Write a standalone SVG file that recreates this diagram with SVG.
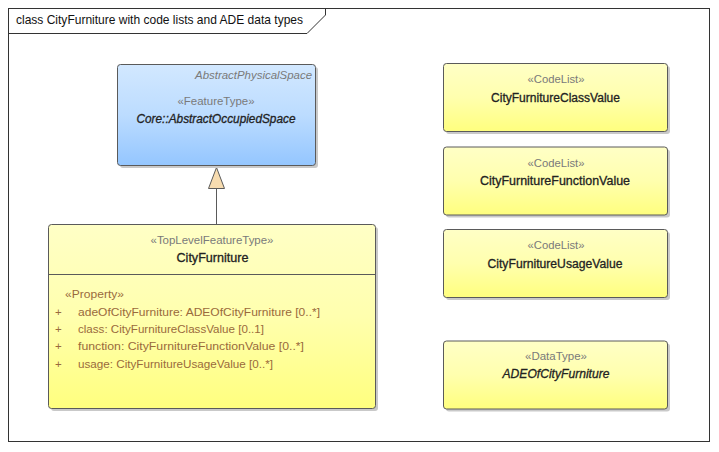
<svg xmlns="http://www.w3.org/2000/svg" width="719" height="452" viewBox="0 0 719 452">
<defs>
<linearGradient id="gBlue" x1="0" y1="0" x2="0" y2="1">
<stop offset="0" stop-color="#d2e8ff"/>
<stop offset="0.5" stop-color="#bcdcff"/>
<stop offset="1" stop-color="#94c6ff"/>
</linearGradient>
<linearGradient id="gYel" x1="0" y1="0" x2="0" y2="1">
<stop offset="0" stop-color="#ffffc6"/>
<stop offset="0.5" stop-color="#ffffae"/>
<stop offset="1" stop-color="#ffff7e"/>
</linearGradient>
<style>
text{font-family:"Liberation Sans",Arial,sans-serif;}
.shadow{fill:#c9c9c9;}
.box{stroke:#5a5a5a;stroke-width:1;}
.blue{fill:url(#gBlue);}
.yel{fill:url(#gYel);}
.st{font-size:11px;fill:#7a7a7a;text-anchor:middle;}
.nm{font-size:12.5px;fill:#222;stroke:#222;stroke-width:0.3;text-anchor:middle;}
.it{font-style:italic;}
.attr{font-size:11.5px;fill:#9a6a3c;}
.title{font-size:13px;fill:#111;}
.line{stroke:#5a5a5a;stroke-width:1;fill:none;}
</style>
</defs>
<rect width="719" height="452" fill="#fff"/>
<g id="frame">
<rect x="8.5" y="8.5" width="701" height="433" fill="none" stroke="#333"/>
<path d="M8.5,33.5 H307 L325.5,15 V8.5" fill="none" stroke="#333"/>
<text class="title" x="16" y="24" textLength="287" lengthAdjust="spacingAndGlyphs">class CityFurniture with code lists and ADE data types</text>
</g>
<g id="connectors">
<line class="line" x1="216.5" y1="188" x2="216.5" y2="224"/>
<polygon points="216.5,167.5 208.5,188.5 224.5,188.5" fill="#f7dcb0" stroke="#5a5a5a"/>
</g>
<g id="AbstractOccupiedSpace">
<rect class="shadow" x="120" y="67" width="198" height="101" rx="3"/>
<rect class="box blue" x="117.5" y="64.5" width="198" height="101" rx="3"/>
<text class="st it" x="312" y="79" style="text-anchor:end" textLength="117" lengthAdjust="spacingAndGlyphs">AbstractPhysicalSpace</text>
<text class="st" x="216" y="105" textLength="77" lengthAdjust="spacingAndGlyphs">«FeatureType»</text>
<text class="nm it" x="216" y="123" textLength="159" lengthAdjust="spacingAndGlyphs">Core::AbstractOccupiedSpace</text>
</g>
<g id="CityFurniture">
<rect class="shadow" x="51" y="227" width="327" height="184" rx="3"/>
<rect class="box yel" x="48.5" y="224.5" width="327" height="184" rx="3"/>
<line class="line" x1="48.5" y1="274.5" x2="375.5" y2="274.5"/>
<text class="st" x="212" y="244" textLength="123" lengthAdjust="spacingAndGlyphs">«TopLevelFeatureType»</text>
<text class="nm" x="212.5" y="262" textLength="72" lengthAdjust="spacingAndGlyphs">CityFurniture</text>
<text class="attr" x="65" y="298" textLength="59" lengthAdjust="spacingAndGlyphs">«Property»</text>
<text class="attr" x="55" y="316">+</text>
<text class="attr" x="78" y="316" textLength="242" lengthAdjust="spacingAndGlyphs">adeOfCityFurniture: ADEOfCityFurniture [0..*]</text>
<text class="attr" x="55" y="333">+</text>
<text class="attr" x="78" y="333" textLength="186" lengthAdjust="spacingAndGlyphs">class: CityFurnitureClassValue [0..1]</text>
<text class="attr" x="55" y="350">+</text>
<text class="attr" x="78" y="350" textLength="226" lengthAdjust="spacingAndGlyphs">function: CityFurnitureFunctionValue [0..*]</text>
<text class="attr" x="55" y="368">+</text>
<text class="attr" x="78" y="368" textLength="195" lengthAdjust="spacingAndGlyphs">usage: CityFurnitureUsageValue [0..*]</text>
</g>
<g id="CityFurnitureClassValue">
<rect class="shadow" x="446" y="66" width="224" height="68" rx="3"/>
<rect class="box yel" x="443.5" y="63.5" width="224" height="68" rx="3"/>
<text class="st" x="556" y="83" textLength="57" lengthAdjust="spacingAndGlyphs">«CodeList»</text>
<text class="nm" x="555.5" y="102" textLength="129" lengthAdjust="spacingAndGlyphs">CityFurnitureClassValue</text>
</g>
<g id="CityFurnitureFunctionValue">
<rect class="shadow" x="446" y="149.5" width="224" height="68" rx="3"/>
<rect class="box yel" x="443.5" y="147" width="224" height="68" rx="3"/>
<text class="st" x="556" y="166.5" textLength="57" lengthAdjust="spacingAndGlyphs">«CodeList»</text>
<text class="nm" x="555" y="185" textLength="150" lengthAdjust="spacingAndGlyphs">CityFurnitureFunctionValue</text>
</g>
<g id="CityFurnitureUsageValue">
<rect class="shadow" x="446" y="232" width="224" height="68" rx="3"/>
<rect class="box yel" x="443.5" y="229.5" width="224" height="68" rx="3"/>
<text class="st" x="556" y="249" textLength="57" lengthAdjust="spacingAndGlyphs">«CodeList»</text>
<text class="nm" x="555" y="267.5" textLength="135" lengthAdjust="spacingAndGlyphs">CityFurnitureUsageValue</text>
</g>
<g id="ADEOfCityFurniture">
<rect class="shadow" x="446" y="343.5" width="224" height="68" rx="3"/>
<rect class="box yel" x="443.5" y="341" width="224" height="68" rx="3"/>
<text class="st" x="556" y="360" textLength="62" lengthAdjust="spacingAndGlyphs">«DataType»</text>
<text class="nm it" x="556" y="378" textLength="107" lengthAdjust="spacingAndGlyphs">ADEOfCityFurniture</text>
</g>
</svg>
